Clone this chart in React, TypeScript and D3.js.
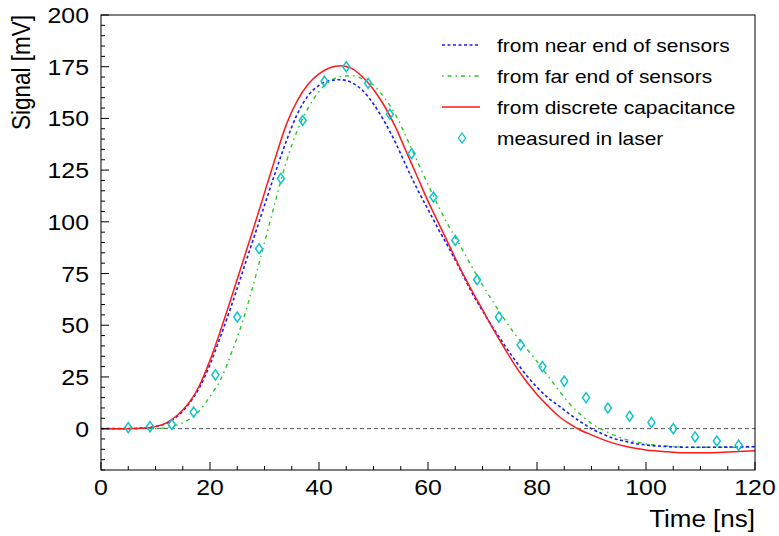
import React from "react";
import * as d3 from "d3";

// time grid (ns) for the simulated curves
const times = [
  0, 4, 8, 10, 12, 14, 16, 18, 20, 22, 24, 26, 28, 30, 32, 34, 36, 38, 40, 42,
  44, 46, 48, 50, 52, 54, 56, 58, 60, 62, 64, 66, 68, 70, 72, 74, 76, 78, 80,
  82, 84, 86, 88, 90, 92, 94, 96, 98, 100, 104, 108, 112, 116, 120,
];

const nearEnd = [
  0, 0, 0.3, 1, 2.6, 6, 11.5, 19.5, 31, 45, 60, 76, 92, 108, 124, 139, 152,
  161, 166, 168.3, 168.7, 167.3, 163.5, 157, 148.5, 138.5, 127, 116, 106, 96,
  86.5, 76.5, 66, 57, 48.5, 40.5, 33, 26, 20, 15, 11, 7, 3.3, 0, -2.5, -4.7,
  -6, -7.2, -7.9, -8.7, -9, -9, -8.9, -8.7,
];

const farEnd = [
  0, 0, 0, 0, 0.5, 1.8, 4.2, 8.5, 15.5, 24, 37, 52, 70, 90, 110, 129, 144,
  155, 163, 168, 170.3, 170.6, 169.2, 166, 160, 152, 141, 129.5, 118, 107,
  97, 88, 78.5, 69.5, 61, 53, 45.5, 39, 32.5, 25.5, 18.5, 12, 6.8, 2.5, -0.5,
  -3, -5, -6.3, -7.4, -8.5, -9, -9, -9, -8.8,
];

const discrete = [
  0, 0, 0.3, 1, 2.8, 6.5, 12, 20.5, 33, 48, 64, 80.5, 97, 114, 131, 147,
  158.5, 166.5, 171.5, 174.5, 175.5, 174.2, 170, 164, 156, 146, 134, 122, 110,
  99, 88, 77, 67, 57.5, 48, 39, 30.5, 23, 16.5, 11, 6, 2.3, -0.8, -3, -5.2,
  -7, -8.4, -9.5, -10.3, -11.2, -11.7, -11.6, -11.2, -10.7,
];

// laser measurement
const laserT = [
  5, 9, 13, 17, 21, 25, 29, 33, 37, 41, 45, 49, 53, 57, 61, 65, 69, 73, 77, 81,
  85, 89, 93, 97, 101, 105, 109, 113, 117,
];
const laserV = [
  0.5, 1, 2, 8, 26, 54, 87, 121, 149, 168, 175, 167, 152, 133, 112, 91, 72,
  54, 40.5, 30, 23, 15, 10, 6, 3, 0, -4, -6, -8,
];

const xTicks = [0, 20, 40, 60, 80, 100, 120];
const yTicks = [0, 25, 50, 75, 100, 125, 150, 175, 200];

const legendItems = [
  { label: "from near end of sensors", color: "#1a1aff", dash: "3,2.5", kind: "line" },
  { label: "from far end of sensors", color: "#22cc22", dash: "1.5,4,4,4", kind: "line" },
  { label: "from discrete capacitance", color: "#ff1a1a", dash: "", kind: "line" },
  { label: "measured in laser", color: "#11c4cc", dash: "", kind: "marker" },
];

const W = 779;
const H = 536;
const left = 101;
const right = 755;
const top = 15;
const bottom = 470;
const font = "'Liberation Sans', Arial, Helvetica, sans-serif";
// the original picture is a bit wider than tall, text looks stretched
const sx = 1.13;

const diamond = (cx: number, cy: number) =>
  `M${cx},${cy - 5}L${cx + 3.5},${cy}L${cx},${cy + 5}L${cx - 3.5},${cy}Z`;

export default function App() {
  const x = d3.scaleLinear().domain([0, 120]).range([left, right]);
  const y = d3.scaleLinear().domain([-20, 200]).range([bottom, top]);

  const line = (vals: number[]) =>
    d3
      .line<number>()
      .x((_, i) => x(times[i]))
      .y((v) => y(v))
      .curve(d3.curveMonotoneX)(vals) || "";

  const xMinor = d3.range(0, 121, 5);
  const yMinor = d3.range(-20, 201, 5);

  return (
    <>
      <style>{`body{margin:0}`}</style>
      <svg width={W} height={H} style={{ display: "block", background: "#fff" }} fontFamily={font}>
        {/* zero reference */}
        <line x1={x(0)} x2={x(120)} y1={y(0)} y2={y(0)} stroke="#555" strokeWidth={1} strokeDasharray="4,3" />

        {/* curves */}
        <path d={line(farEnd)} fill="none" stroke="#22cc22" strokeWidth={1.4} strokeDasharray="1.5,4,4,4" />
        <path d={line(nearEnd)} fill="none" stroke="#1a1aff" strokeWidth={1.6} strokeDasharray="3,2.5" />
        <path d={line(discrete)} fill="none" stroke="#ff1a1a" strokeWidth={1.5} />

        {laserT.map((t, i) => (
          <path key={i} d={diamond(x(t), y(laserV[i]))} fill="none" stroke="#11c4cc" strokeWidth={1.5} />
        ))}

        {/* frame */}
        <rect x={left} y={top} width={right - left} height={bottom - top} fill="none" stroke="#000" strokeWidth={1} />

        {/* x ticks */}
        {xMinor.map((t) => (
          <line key={"xm" + t} x1={x(t)} x2={x(t)} y1={bottom} y2={bottom - (t % 20 === 0 ? 8 : 4)} stroke="#000" />
        ))}
        {xTicks.map((t) => (
          <text key={"xl" + t} transform={`translate(${x(t)},495) scale(${sx},1)`} fontSize={22} textAnchor="middle" fill="#000">
            {t}
          </text>
        ))}

        {/* y ticks */}
        {yMinor.map((v) => (
          <line key={"ym" + v} x1={left} x2={left + (v % 25 === 0 ? 8 : 4)} y1={y(v)} y2={y(v)} stroke="#000" />
        ))}
        {yTicks.map((v) => (
          <text key={"yl" + v} transform={`translate(89,${y(v) + 8}) scale(${sx},1)`} fontSize={22} textAnchor="end" fill="#000">
            {v}
          </text>
        ))}

        {/* axis titles */}
        <text transform={`translate(755,527) scale(${sx},1)`} fontSize={23} textAnchor="end" fill="#000">
          Time [ns]
        </text>
        <text transform={`translate(29.5,${top}) scale(${sx},1) rotate(-90)`} fontSize={22.5} textAnchor="end" fill="#000">
          Signal [mV]
        </text>

        {/* legend */}
        {legendItems.map((it, i) => {
          const cy = 45 + i * 31;
          return (
            <g key={it.label}>
              {it.kind === "line" ? (
                <line x1={442} x2={480} y1={cy} y2={cy} stroke={it.color} strokeWidth={1.5} strokeDasharray={it.dash} />
              ) : (
                <path d={diamond(462, cy)} fill="none" stroke={it.color} strokeWidth={1.3} />
              )}
              <text transform={`translate(497,${cy + 6.5}) scale(1.15,1)`} fontSize={18.2} fill="#000">
                {it.label}
              </text>
            </g>
          );
        })}
      </svg>
    </>
  );
}
